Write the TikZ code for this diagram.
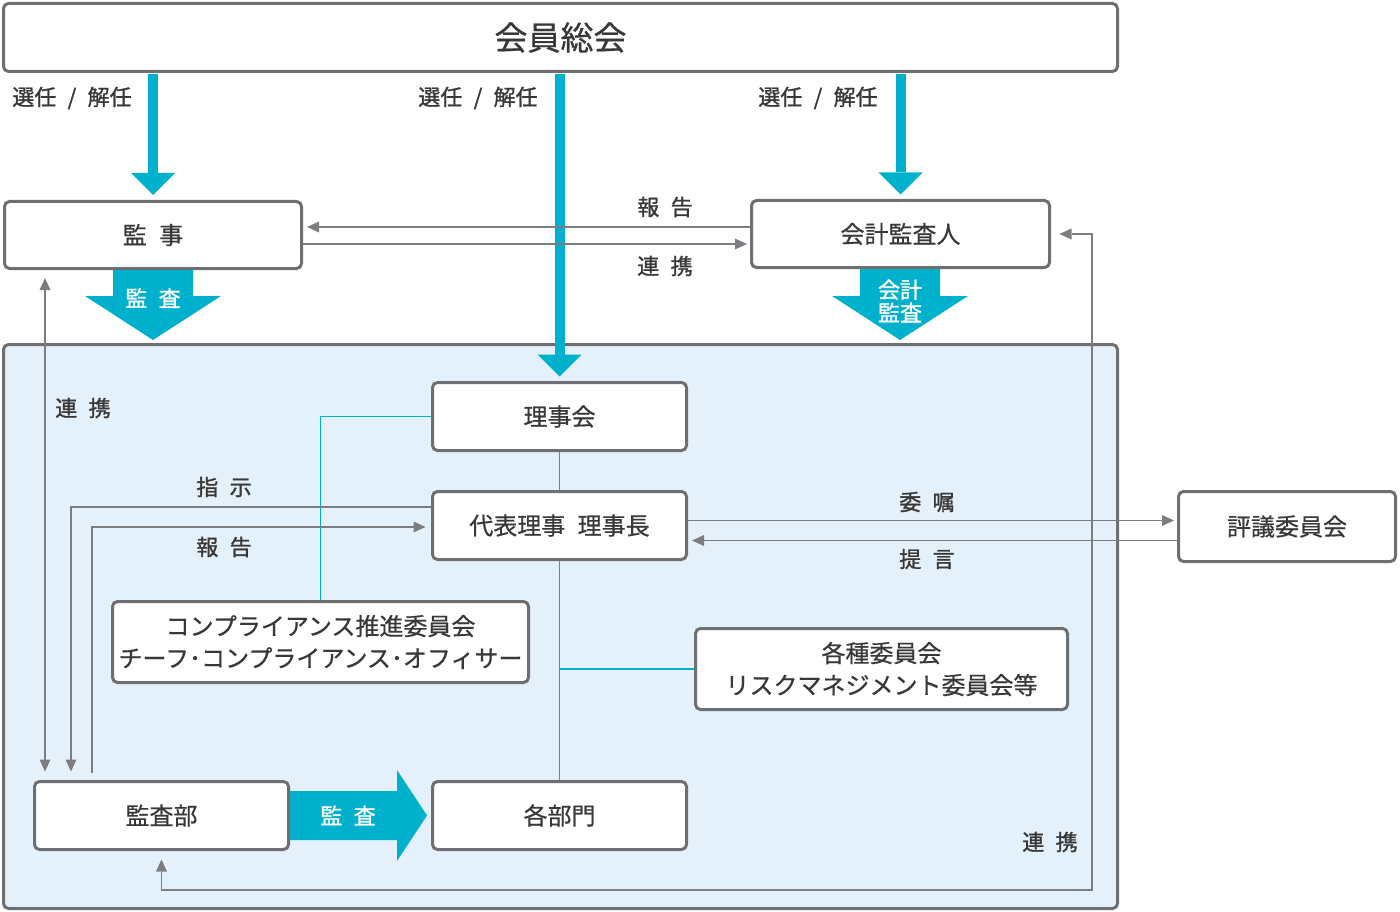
\documentclass[tikz,border=0pt]{standalone}
\usepackage{fontspec}
\setmainfont[WordSpace=2.3]{Noto Sans CJK JP}
\newfontfamily\lblfont[WordSpace=2.3,FakeBold=1.2]{Noto Sans CJK JP}
\newfontfamily\boxfont[WordSpace=2.3,FakeBold=0.6]{Noto Sans CJK JP}
\usetikzlibrary{arrows.meta}
\definecolor{kcyan}{HTML}{00B1CD}
\definecolor{kborder}{HTML}{6E6F72}
\definecolor{kline}{HTML}{7C7D80}
\definecolor{kfill}{HTML}{E5F1FA}
\definecolor{ktext}{HTML}{383838}

\begin{document}
\begin{tikzpicture}[x=1pt,y=-1pt]
  \tikzset{box/.style={draw=kborder, line width=3pt, rounded corners=5pt, fill=white, text=ktext,
      font=\boxfont\fontsize{24}{32}\selectfont, align=center, inner sep=0pt},
    lbl/.style={text=ktext, font=\lblfont\fontsize{22}{26}\selectfont},
    wlbl/.style={text=white, font=\lblfont\fontsize{22}{23}\selectfont, align=center},
    link/.style={draw=kline, line width=1.5pt},
    tip/.style={-{Triangle[length=12pt,width=11pt,line width=0pt]}},
    tips/.style={{Triangle[length=12pt,width=11pt,line width=0pt]}-{Triangle[length=12pt,width=11pt,line width=0pt]}},
    elect/.style={draw=kcyan, line width=10pt, -{Triangle[length=22pt,width=44pt,line width=0pt]}},
    tie/.style={draw=kcyan, line width=1.5pt}}
  \useasboundingbox (0,0) rectangle (1400,912);

  % executive side
  \draw[draw=kborder, line width=3pt, fill=kfill, rounded corners=5pt] (3.5,344.5) rectangle (1117.5,908.5);

  % audit arrows
  \fill[kcyan] (113,268) -- (193,268) -- (193,296) -- (221,296) -- (153,340) -- (85,296) -- (113,296) -- cycle;
  \fill[kcyan] (860,268) -- (940,268) -- (940,296) -- (968,296) -- (900,340) -- (832,296) -- (860,296) -- cycle;
  \fill[kcyan] (288,791) -- (397,791) -- (397,770) -- (427,815.5) -- (397,861) -- (397,840) -- (288,840) -- cycle;
  \node[wlbl] (a1) at (153,298) {監 査};
  \node[wlbl] (a2) at (900,301) {会計\\監査};
  \node[wlbl] (a3) at (348,815.5) {監 査};

  % boxes
  \node[box, minimum width=1114, minimum height=68, font=\boxfont\fontsize{33}{36}\selectfont] (soukai) at (560.5,37.5) {会員総会};
  \node[box, minimum width=297, minimum height=67] (kanji) at (153,235) {監 事};
  \node[box, minimum width=298, minimum height=67] (kaikei) at (900.5,234) {会計監査人};
  \node[box, minimum width=254, minimum height=68] (riji) at (559.5,416.5) {理事会};
  \node[box, minimum width=254, minimum height=68] (daihyo) at (559.5,525.5) {代表理事 理事長};
  \node[box, minimum width=416, minimum height=81] (comp) at (320.5,642) {コンプライアンス推進委員会\\チーフ･コンプライアンス･オフィサー};
  \node[box, minimum width=372, minimum height=81] (iinkai) at (881.5,669) {各種委員会\\リスクマネジメント委員会等};
  \node[box, minimum width=254, minimum height=68] (kansabu) at (161.5,815.5) {監査部};
  \node[box, minimum width=254, minimum height=68] (kakubu) at (559.5,815.5) {各部門};
  \node[box, minimum width=217, minimum height=70] (hyogi) at (1287,526.5) {評議委員会};

  % labels
  \node[lbl] (sen1) at (72,98) {選任 / 解任};
  \node[lbl] (sen2) at (478,98) {選任 / 解任};
  \node[lbl] (sen3) at (818,98) {選任 / 解任};
  \node[lbl] (hou1) at (665,207) {報 告};
  \node[lbl] (ren1) at (665,266) {連 携};
  \node[lbl] (ren2) at (83,408) {連 携};
  \node[lbl] (shiji) at (224,487) {指 示};
  \node[lbl] (hou2) at (224,547) {報 告};
  \node[lbl] (ishoku) at (927,502) {委 嘱};
  \node[lbl] (teigen) at (927,559) {提 言};
  \node[lbl] (ren3) at (1050,842) {連 携};

  % election
  \draw[elect, shorten <=1.5pt] (soukai.south -| kanji.north) -- ([yshift=5pt]kanji.north);
  \draw[elect, shorten <=1.5pt] (soukai.south -| riji.north) -- ([yshift=4.5pt]riji.north);
  \draw[elect, shorten <=1.5pt] (soukai.south -| kaikei.north) -- ([yshift=4.5pt]kaikei.north);

  % organisation lines
  \draw[tie] (riji.west) -| (comp.north);
  \draw[tie] (riji.south) -- (daihyo.north);
  \draw[tie] (daihyo.south) -- (kakubu.north);
  \draw[tie] (iinkai.west) -- (iinkai.west -| daihyo.south);

  % report lines
  \draw[link, tip, shorten >=4pt] ([yshift=7pt]kaikei.west) -- ([yshift=8pt]kanji.east);
  \draw[link, tip, shorten >=3pt] ([yshift=-9pt]kanji.east) -- ([yshift=-10pt]kaikei.west);
  \coordinate (lx) at (45,0);
  \draw[link, tips, shorten <=8pt, shorten >=8.5pt] (lx |- kanji.south) -- (lx |- kansabu.north);
  \coordinate (sx) at (71,0);
  \draw[link, tip, shorten >=8.5pt] ([yshift=18.5pt]daihyo.west) -| (sx |- kansabu.north);
  \coordinate (hx) at (92,773);
  \draw[link, tip, shorten >=5.5pt] (hx) |- ([yshift=-1.5pt]daihyo.west);
  \draw[link, tip, shorten >=3pt] ([yshift=5pt]daihyo.east) -- ([yshift=6pt]hyogi.west);
  \draw[link, tip, shorten >=4pt] ([yshift=-14pt]hyogi.west) -- ([yshift=-15pt]daihyo.east);
  \coordinate (bx) at (1092,890);
  \draw[link, tips, shorten <=8.5pt, shorten >=8.5pt] (kansabu.south) |- (bx) |- (kaikei.east);
\end{tikzpicture}
\end{document}
